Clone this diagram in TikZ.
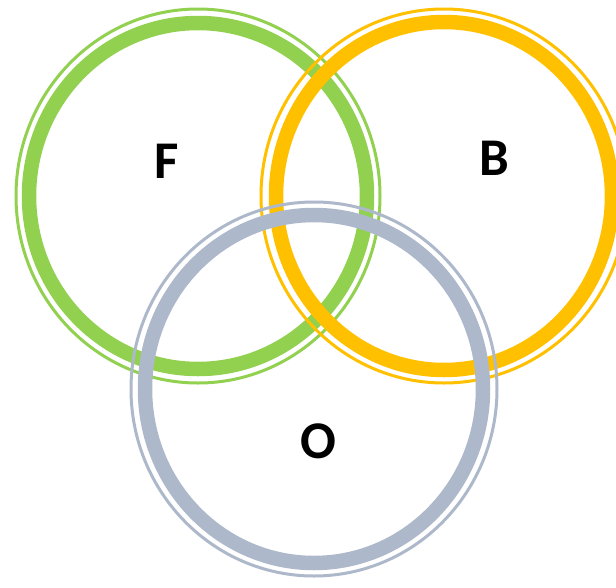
\documentclass[tikz,border=0pt]{standalone}
\usepackage{fontspec}
\setmainfont{Carlito}
\usetikzlibrary{positioning}
\definecolor{ringgreen}{HTML}{92D050}
\definecolor{ringorange}{HTML}{FFC000}
\definecolor{ringgray}{HTML}{ADB9CA}
\tikzset{
  thinring/.style={draw=#1, line width=3pt},
  thickring/.style={draw=#1, line width=14.5pt},
  setlabel/.style={font=\fontsize{53}{53}\selectfont\bfseries, inner sep=0pt},
}

\begin{document}
\begin{tikzpicture}[x=1pt, y=-1pt]
    \useasboundingbox (0,0) rectangle (616,587);
    % F
    \path[thinring=ringgreen] (198,196) ellipse [x radius=182pt, y radius=187pt];
    \path[thickring=ringgreen] (198,196) ellipse [x radius=169pt, y radius=173pt];
    % B
    \path[thinring=ringorange] (444,196) ellipse [x radius=183pt, y radius=187pt];
    \path[thickring=ringorange] (444,196) ellipse [x radius=168pt, y radius=174pt];
    % O
    \path[thinring=ringgray] (314,389) ellipse [x radius=183pt, y radius=187pt];
    \path[thickring=ringgray] (314,389) ellipse [x radius=169pt, y radius=174pt];
    \node[setlabel] (f) at (167,161) {F};
    \node[setlabel] (b) at (494,158) {B};
    \node[setlabel] (o) at (318,441) {O};
  \end{tikzpicture}
\end{document}
